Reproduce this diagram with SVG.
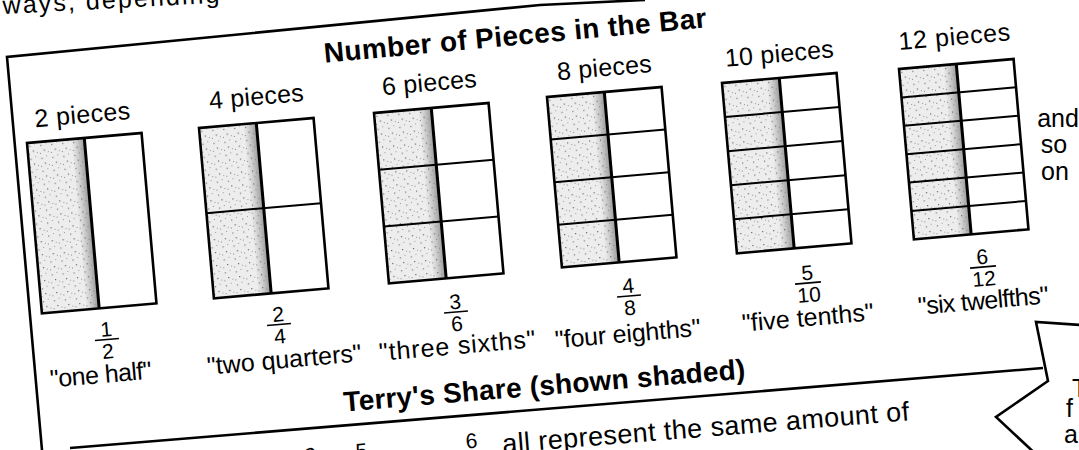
<svg xmlns="http://www.w3.org/2000/svg" width="1079" height="450" viewBox="0 0 1079 450">
<style>
.t{font-family:"Liberation Sans",Arial,sans-serif;fill:#000;text-anchor:middle}
.lbl{font-size:25px}
.ttl{font-size:28px;font-weight:bold}
.frac{font-size:21px}
.shade{fill:url(#stip)}
.edge{fill:url(#edge)}
.frame{fill:none;stroke:#000;stroke-width:2.6}
.div{stroke:#000;stroke-width:3}
.row{stroke:#000;stroke-width:2}
.fl{stroke:#000;stroke-width:1.6}
.ln{fill:none;stroke:#000;stroke-width:2.6;stroke-linejoin:miter}
</style>
<defs>
<pattern id="stip" width="11" height="13" patternUnits="userSpaceOnUse">
<rect width="11" height="13" fill="#ededed"/>
<rect x="2" y="3" width="1.2" height="1.2" fill="#777"/>
<rect x="7" y="1" width="1" height="1" fill="#999"/>
<rect x="5" y="8" width="1.2" height="1.2" fill="#666"/>
<rect x="9" y="10" width="1" height="1" fill="#999"/>
<rect x="1" y="11" width="1" height="1" fill="#888"/>
</pattern>
<linearGradient id="edge" x1="0" x2="1" y1="0" y2="0">
<stop offset="0" stop-color="#888" stop-opacity="0"/>
<stop offset="1" stop-color="#666" stop-opacity="0.65"/>
</linearGradient>
</defs>
<rect width="1079" height="450" fill="#fff"/>

<g id="frame">
<polyline class="ln" points="42,450 7,57 540,5 645,0"/>
<line class="ln" x1="70" y1="448" x2="1043" y2="368"/>
<polyline class="ln" points="1081,325 1036,322 1048,381 996,417 1040,458"/>
</g>

<text class="t lbl" x="3" y="14" style="text-anchor:start" transform="rotate(-3 3 14)" textLength="217">ways, depending</text>

<g id="title-top"><text class="t ttl" x="516" y="45" transform="rotate(-5.3 516 45)" textLength="384">Number of Pieces in the Bar</text></g>

<g id="col-2">
<text class="t lbl" x="83" y="123" transform="rotate(-5 83 123)" textLength="96">2 pieces</text>
<g transform="translate(27,143) rotate(-5)">
<rect class="shade" width="57.5" height="171"/><rect class="edge" x="44" width="13.5" height="171"/>
<rect class="frame" width="115" height="171"/><line class="div" x1="57.5" y1="0" x2="57.5" y2="171"/>
</g>
<g transform="translate(107,339.5) rotate(-5)"><text class="t frac" y="-3">1</text><line class="fl" x1="-12" x2="12"/><text class="t frac" y="19">2</text></g>
<text class="t lbl" x="101.5" y="383" transform="rotate(-5 101.5 383)" textLength="102">"one half"</text>
</g>

<g id="col-4">
<text class="t lbl" x="257" y="105" transform="rotate(-5 257 105)" textLength="95">4 pieces</text>
<g transform="translate(199,128) rotate(-5)">
<rect class="shade" width="57.5" height="171"/><rect class="edge" x="44" width="13.5" height="171"/>
<rect class="frame" width="115" height="171"/><line class="div" x1="57.5" y1="0" x2="57.5" y2="171"/>
<line class="row" x1="0" x2="115" y1="85.5" y2="85.5"/>
</g>
<g transform="translate(279,324.5) rotate(-5)"><text class="t frac" y="-3">2</text><line class="fl" x1="-12" x2="12"/><text class="t frac" y="19">4</text></g>
<text class="t lbl" x="285" y="368" transform="rotate(-5 285 368)" textLength="155">"two quarters"</text>
</g>

<g id="col-6">
<text class="t lbl" x="430" y="91" transform="rotate(-5 430 91)" textLength="95">6 pieces</text>
<g transform="translate(374,113) rotate(-5)">
<rect class="shade" width="57.5" height="171"/><rect class="edge" x="44" width="13.5" height="171"/>
<rect class="frame" width="115" height="171"/><line class="div" x1="57.5" y1="0" x2="57.5" y2="171"/>
<line class="row" x1="0" x2="115" y1="57" y2="57"/><line class="row" x1="0" x2="115" y1="114" y2="114"/>
</g>
<g transform="translate(456,312) rotate(-5)"><text class="t frac" y="-3">3</text><line class="fl" x1="-12" x2="12"/><text class="t frac" y="19">6</text></g>
<text class="t lbl" x="458" y="354" transform="rotate(-5 458 354)" textLength="157">"three sixths"</text>
</g>

<g id="col-8">
<text class="t lbl" x="605" y="76" transform="rotate(-5 605 76)" textLength="95">8 pieces</text>
<g transform="translate(547,97) rotate(-5)">
<rect class="shade" width="57.5" height="171"/><rect class="edge" x="44" width="13.5" height="171"/>
<rect class="frame" width="115" height="171"/><line class="div" x1="57.5" y1="0" x2="57.5" y2="171"/>
<line class="row" x1="0" x2="115" y1="42.75" y2="42.75"/><line class="row" x1="0" x2="115" y1="85.5" y2="85.5"/><line class="row" x1="0" x2="115" y1="128.25" y2="128.25"/>
</g>
<g transform="translate(629,296) rotate(-5)"><text class="t frac" y="-3">4</text><line class="fl" x1="-12" x2="12"/><text class="t frac" y="19">8</text></g>
<text class="t lbl" x="628.5" y="342" transform="rotate(-5 628.5 342)" textLength="146">"four eighths"</text>
</g>

<g id="col-10">
<text class="t lbl" x="780" y="62" transform="rotate(-5 780 62)" textLength="109">10 pieces</text>
<g transform="translate(722,83) rotate(-5)">
<rect class="shade" width="57.5" height="171"/><rect class="edge" x="44" width="13.5" height="171"/>
<rect class="frame" width="115" height="171"/><line class="div" x1="57.5" y1="0" x2="57.5" y2="171"/>
<line class="row" x1="0" x2="115" y1="34.2" y2="34.2"/><line class="row" x1="0" x2="115" y1="68.4" y2="68.4"/><line class="row" x1="0" x2="115" y1="102.6" y2="102.6"/><line class="row" x1="0" x2="115" y1="136.8" y2="136.8"/>
</g>
<g transform="translate(808,283) rotate(-5)"><text class="t frac" y="-3">5</text><line class="fl" x1="-13" x2="13"/><text class="t frac" y="19">10</text></g>
<text class="t lbl" x="808.5" y="326" transform="rotate(-5 808.5 326)" textLength="132">"five tenths"</text>
</g>

<g id="col-12">
<text class="t lbl" x="955" y="45" transform="rotate(-5 955 45)" textLength="112">12 pieces</text>
<g transform="translate(899,69) rotate(-5)">
<rect class="shade" width="57.5" height="171"/><rect class="edge" x="44" width="13.5" height="171"/>
<rect class="frame" width="115" height="171"/><line class="div" x1="57.5" y1="0" x2="57.5" y2="171"/>
<line class="row" x1="0" x2="115" y1="28.5" y2="28.5"/><line class="row" x1="0" x2="115" y1="57" y2="57"/><line class="row" x1="0" x2="115" y1="85.5" y2="85.5"/><line class="row" x1="0" x2="115" y1="114" y2="114"/><line class="row" x1="0" x2="115" y1="142.5" y2="142.5"/>
</g>
<g transform="translate(983,267) rotate(-5)"><text class="t frac" y="-3">6</text><line class="fl" x1="-13" x2="13"/><text class="t frac" y="19">12</text></g>
<text class="t lbl" x="984" y="309" transform="rotate(-5 984 309)" textLength="131">"six twelfths"</text>
</g>

<g id="and-so-on">
<text class="t lbl" x="1058" y="127" font-size="24">and</text>
<text class="t lbl" x="1054" y="153" font-size="24">so</text>
<text class="t lbl" x="1055" y="180" font-size="24">on</text>
</g>

<g id="title-bottom"><text class="t ttl" x="545" y="395" transform="rotate(-4.7 545 395)" textLength="403">Terry's Share (shown shaded)</text></g>

<g id="sentence">
<text class="t frac" x="311" y="462.5" transform="rotate(-5 311 462.5)">2</text>
<text class="t frac" x="362" y="458" transform="rotate(-5 362 458)">5</text>
<text class="t frac" x="472" y="448" transform="rotate(-5 472 448)">6</text>
<text class="t" x="503" y="453" font-size="27" style="text-anchor:start" transform="rotate(-4.6 503 453)" textLength="408">all represent the same amount of</text>
</g>

<g id="callout-text">
<text class="t lbl" x="1072" y="397" style="text-anchor:start">T</text>
<text class="t lbl" x="1066" y="417" style="text-anchor:start">f</text>
<text class="t lbl" x="1064" y="443" style="text-anchor:start">a</text>
</g>
</svg>
